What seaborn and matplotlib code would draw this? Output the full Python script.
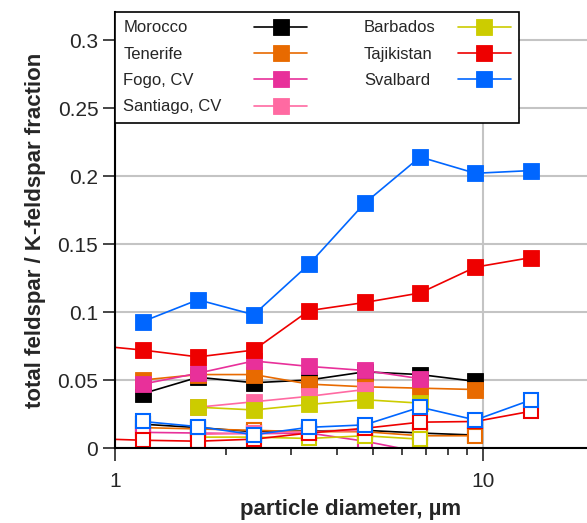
import matplotlib.pyplot as plt
import matplotlib.ticker as mticker
import pandas as pd
import seaborn as sns

# particle diameters (µm); Tajikistan has one extra stage below 1 µm
diameters = [1.19, 1.68, 2.38, 3.36, 4.76, 6.73, 9.51, 13.45]
taj_diameters = [0.84] + diameters

sites = ["Morocco", "Tenerife", "Fogo, CV", "Santiago, CV", "Barbados", "Tajikistan", "Svalbard"]
colors = ["#000000", "#e86a00", "#e8309a", "#ff6aa2", "#cccc00", "#ee0000", "#0066ff"]

# total feldspar fraction (filled squares)
morocco_total = [0.040, 0.052, 0.048, 0.050, 0.056, 0.054, 0.049]
tenerife_total = [0.050, 0.054, 0.054, 0.047, 0.045, 0.044, 0.043]
fogo_total = [0.047, 0.055, 0.064, 0.060, 0.057, 0.051]
santiago_total = [0.030, 0.034, 0.038, 0.043]
barbados_total = [0.030, 0.028, 0.032, 0.0355, 0.033]
tajikistan_total = [0.076, 0.072, 0.067, 0.072, 0.101, 0.107, 0.114, 0.133, 0.140]
svalbard_total = [0.093, 0.109, 0.098, 0.135, 0.180, 0.214, 0.202, 0.204]

# K-feldspar fraction (open squares)
morocco_k = [0.0175, 0.015, 0.012, 0.0125, 0.013, 0.011, 0.0095]
tenerife_k = [0.015, 0.014, 0.013, 0.012, 0.012, 0.009, 0.009]
fogo_k = [0.0115, 0.011, 0.0105, 0.011, 0.005, -0.003]
santiago_k = [0.010, 0.011, 0.012, 0.013]
barbados_k = [0.008, 0.008, 0.007, 0.009, 0.0065]
tajikistan_k = [0.007, 0.0057, 0.005, 0.0065, 0.011, 0.0145, 0.019, 0.0195, 0.027]
svalbard_k = [0.0195, 0.0157, 0.0098, 0.0152, 0.017, 0.030, 0.0206, 0.0353]

site_x = {
    "Morocco": diameters[:7],
    "Tenerife": diameters[:7],
    "Fogo, CV": diameters[:6],
    "Santiago, CV": diameters[1:5],
    "Barbados": diameters[1:6],
    "Tajikistan": taj_diameters,
    "Svalbard": diameters,
}
site_total = dict(zip(sites, [morocco_total, tenerife_total, fogo_total, santiago_total,
                              barbados_total, tajikistan_total, svalbard_total]))
site_k = dict(zip(sites, [morocco_k, tenerife_k, fogo_k, santiago_k,
                          barbados_k, tajikistan_k, svalbard_k]))

rows = []
for site in sites:
    for d, t, k in zip(site_x[site], site_total[site], site_k[site]):
        rows.append({"site": site, "diameter": d, "kind": "total", "fraction": t})
        rows.append({"site": site, "diameter": d, "kind": "k", "fraction": k})
df = pd.DataFrame(rows)

sns.set_style("ticks")
plt.rcParams["font.family"] = ["Liberation Sans", "DejaVu Sans"]

fig, ax = plt.subplots(figsize=(5.87, 5.23), dpi=100)
fig.subplots_adjust(left=115 / 587, right=1.0, bottom=1 - 448 / 523, top=1 - 12 / 523)

# filled: total feldspar
for site, color in zip(sites, colors):
    sub = df[(df["site"] == site) & (df["kind"] == "total")]
    sns.lineplot(data=sub, x="diameter", y="fraction", color=color, marker="s", ms=11,
                 mec=color, mew=0.6, lw=1.2, label=site, legend=False, ax=ax)

# open: K-feldspar
for site, color in zip(sites, colors):
    sub = df[(df["site"] == site) & (df["kind"] == "k")]
    sns.lineplot(data=sub, x="diameter", y="fraction", color=color, marker="s", ms=9.5,
                 mfc="white", mec=color, mew=1.5, lw=1.2, legend=False, ax=ax)

ax.set_xscale("log")
ax.set_xlim(1, 19.1)
ax.set_ylim(0, 0.3206)
ax.yaxis.set_major_locator(mticker.MultipleLocator(0.05))
ax.yaxis.set_major_formatter(mticker.FuncFormatter(lambda v, p: f"{v:g}"))
ax.xaxis.set_major_formatter(mticker.FuncFormatter(lambda v, p: f"{v:g}"))
ax.xaxis.set_minor_formatter(mticker.NullFormatter())
ax.tick_params(axis="both", which="major", labelsize=15, length=9, width=1.2, direction="out")
ax.tick_params(axis="x", which="major", pad=8)
ax.tick_params(axis="y", which="major", pad=3)
ax.tick_params(axis="x", which="minor", length=5, width=1.2, direction="out")
ax.tick_params(axis="y", which="minor", left=False)

ax.set_axisbelow(True)
ax.grid(True, which="major", color="#c4c4c4", lw=1.5)

for side in ["top", "right"]:
    ax.spines[side].set_visible(False)
for side in ["left", "bottom"]:
    ax.spines[side].set_linewidth(1.5)
    ax.spines[side].set_color("black")

ax.set_xlabel("particle diameter, µm", fontsize=16, fontweight="bold", labelpad=6)
ax.set_ylabel("total feldspar / K-feldspar fraction", fontsize=16, fontweight="bold", labelpad=8)

leg = ax.legend(loc="upper left", bbox_to_anchor=(0, 1), borderaxespad=0, ncol=2,
                markerfirst=False, fontsize=12, fancybox=False, edgecolor="black",
                framealpha=1, handlelength=3.2, handletextpad=1.0, columnspacing=3.4,
                labelspacing=0.68, borderpad=0.5)
leg.get_frame().set_linewidth(1.2)

# left-align the labels and right-align the handles in each legend column
for col, width in zip(leg._legend_handle_box.get_children(), [184, 147]):
    for item in col.get_children():
        item.mode = "expand"
        item.width = width

fig.savefig("out.png", dpi=100)
